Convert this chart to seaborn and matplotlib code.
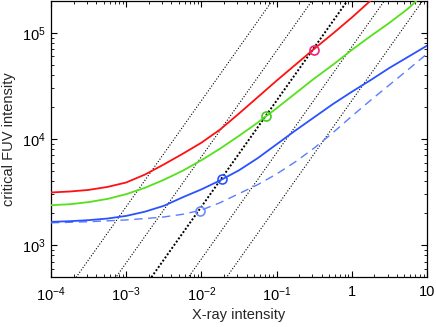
import matplotlib
matplotlib.use("Agg")
import numpy as np
import pandas as pd
import matplotlib.pyplot as plt
import seaborn as sns
from matplotlib.ticker import FixedLocator, FixedFormatter, LogLocator, NullFormatter

# ---------------- data (stored as log10 values) ----------------
lx_red = [-4, -3.75, -3.5, -3.25, -3, -2.75, -2.5, -2.25, -2, -1.75, -1.5, -1.25, -1, -0.75, -0.5, -0.25, 0, 0.25]
ly_red = [3.496, 3.505, 3.52, 3.548, 3.59, 3.665, 3.76, 3.86, 3.965, 4.09, 4.24, 4.395, 4.55, 4.70, 4.85, 4.995, 5.145, 5.305]

lx_green = [-4, -3.75, -3.5, -3.25, -3, -2.75, -2.5, -2.25, -2, -1.75, -1.5, -1.25, -1, -0.75, -0.5, -0.25, 0, 0.25, 0.5, 0.75, 0.863]
ly_green = [3.376, 3.385, 3.405, 3.435, 3.48, 3.54, 3.615, 3.70, 3.80, 3.91, 4.03, 4.155, 4.29, 4.43, 4.57, 4.70, 4.84, 4.97, 5.095, 5.23, 5.305]

lx_blue = [-4, -3.75, -3.5, -3.25, -3, -2.75, -2.5, -2.25, -2, -1.75, -1.5, -1.25, -1, -0.75, -0.5, -0.25, 0, 0.25, 0.5, 0.75, 1]
ly_blue = [3.219, 3.225, 3.235, 3.25, 3.275, 3.315, 3.37, 3.45, 3.525, 3.61, 3.705, 3.82, 3.95, 4.08, 4.205, 4.33, 4.445, 4.555, 4.67, 4.775, 4.88]

lx_dash = [-4, -3.5, -3, -2.75, -2.5, -2.25, -2, -1.75, -1.5, -1.25, -1, -0.75, -0.5, -0.25, 0, 0.25, 0.5, 0.75, 1]
ly_dash = [3.21, 3.22, 3.237, 3.25, 3.265, 3.29, 3.33, 3.40, 3.485, 3.57, 3.67, 3.785, 3.915, 4.06, 4.215, 4.365, 4.51, 4.655, 4.803]

# marked points (circles), linear units
circle_x = [0.31, 0.072, 0.0186, 0.0096]
circle_y = [69700, 16500, 4170, 2110]

# constant-ratio guide lines (FUV = k * X-ray)
guide_k = [2.3e6, 6.8e5, 2.3e5, 7.4e4, 2.3e4]
guide_thick = [False, False, True, False, False]
guide_x = [1e-4, 10.0]

x_ticks = [1e-4, 1e-3, 1e-2, 1e-1, 1, 10]
x_ticklabels = [r"$\mathregular{10^{-4}}$", r"$\mathregular{10^{-3}}$", r"$\mathregular{10^{-2}}$",
                r"$\mathregular{10^{-1}}$", "1", "10"]
y_ticks = [1e3, 1e4, 1e5]
y_ticklabels = [r"$\mathregular{10^{3}}$", r"$\mathregular{10^{4}}$", r"$\mathregular{10^{5}}$"]

# ---------------- style ----------------
sns.set_style("ticks")
plt.rcParams["font.family"] = ["Liberation Sans", "DejaVu Sans"]
plt.rcParams["mathtext.fontset"] = "custom"
plt.rcParams["mathtext.rm"] = "Liberation Sans"
plt.rcParams["mathtext.it"] = "Liberation Sans:italic"
plt.rcParams["mathtext.bf"] = "Liberation Sans:bold"

fig = plt.figure(figsize=(4.36, 3.27), dpi=100)
ax = fig.add_axes([51 / 436, 50 / 327, 376 / 436, 276 / 327])
ax.set_xscale("log")
ax.set_yscale("log")

# guide lines
for k, thick in zip(guide_k, guide_thick):
    gx = np.array(guide_x)
    gdf = pd.DataFrame({"x": gx, "y": k * gx})
    if thick:
        sns.lineplot(data=gdf, x="x", y="y", ax=ax, color="black", lw=1.4,
                     linestyle=(0, (1.0, 1.0)), zorder=2)
    else:
        sns.lineplot(data=gdf, x="x", y="y", ax=ax, color="black", lw=0.8,
                     linestyle=(0, (1.0, 1.6)), zorder=2)

def series(lx, ly):
    return pd.DataFrame({"x": 10.0 ** np.array(lx), "y": 10.0 ** np.array(ly)})

sns.lineplot(data=series(lx_dash, ly_dash), x="x", y="y", ax=ax, color="#5a7dff", lw=1.0,
             linestyle=(0, (6, 4)), zorder=3, sort=False)
sns.lineplot(data=series(lx_blue, ly_blue), x="x", y="y", ax=ax, color="#2a52ff", lw=1.3,
             zorder=4, sort=False)
sns.lineplot(data=series(lx_green, ly_green), x="x", y="y", ax=ax, color="#55e01c", lw=1.3,
             zorder=4, sort=False)
sns.lineplot(data=series(lx_red, ly_red), x="x", y="y", ax=ax, color="#ff1010", lw=1.3,
             zorder=4, sort=False)

circle_colors = ["#f0207a", "#40cc20", "#2a52ff", "#6f8cff"]
for cx, cy, cc in zip(circle_x, circle_y, circle_colors):
    sns.lineplot(x=[cx], y=[cy], ax=ax, marker="o", linestyle="none", ms=6.5,
                 mfc="none", mec=cc, mew=1.2, zorder=5)

ax.set_xlim(1e-4, 10)
ax.set_ylim(500, 2.0e5)

ax.xaxis.set_major_locator(FixedLocator(x_ticks))
ax.xaxis.set_major_formatter(FixedFormatter(x_ticklabels))
ax.xaxis.set_minor_locator(LogLocator(base=10, subs=np.arange(2, 10), numticks=20))
ax.xaxis.set_minor_formatter(NullFormatter())
ax.yaxis.set_major_locator(FixedLocator(y_ticks))
ax.yaxis.set_major_formatter(FixedFormatter(y_ticklabels))
ax.yaxis.set_minor_locator(LogLocator(base=10, subs=np.arange(2, 10), numticks=20))
ax.yaxis.set_minor_formatter(NullFormatter())

ax.tick_params(which="both", direction="in", top=True, right=True, colors="black")
ax.tick_params(which="major", length=4, width=0.8, labelsize=10.5)
ax.tick_params(axis="x", which="major", pad=6)
ax.tick_params(axis="y", which="major", pad=4)
ax.tick_params(which="minor", length=2.2, width=0.6)
for s in ax.spines.values():
    s.set_color("black")
    s.set_linewidth(0.9)

ax.set_xlabel("X-ray intensity", fontsize=10.5, labelpad=3)
ax.set_ylabel("critical FUV intensity", fontsize=10.5, labelpad=4)

fig.savefig("out.png", dpi=100)
